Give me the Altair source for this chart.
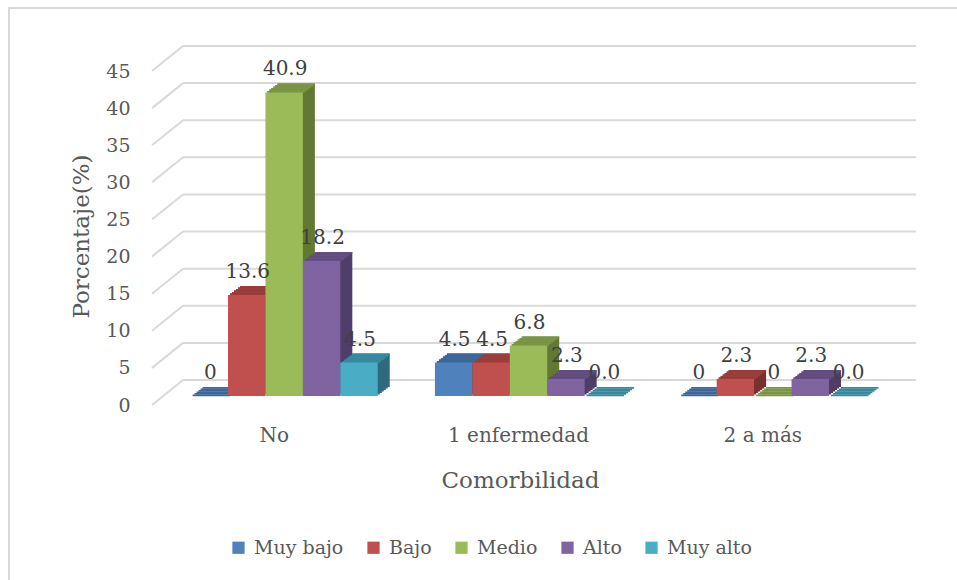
import altair as alt
import pandas as pd

categories = ["No", "1 enfermedad", "2 a más"]
series = ["Muy bajo", "Bajo", "Medio", "Alto", "Muy alto"]
values = {
    "No": [0, 13.6, 40.9, 18.2, 4.5],
    "1 enfermedad": [4.5, 4.5, 6.8, 2.3, 0.0],
    "2 a más": [0, 2.3, 0, 2.3, 0.0],
}
labels = {
    "No": ["0", "13.6", "40.9", "18.2", "4.5"],
    "1 enfermedad": ["4.5", "4.5", "6.8", "2.3", "0.0"],
    "2 a más": ["0", "2.3", "0", "2.3", "0.0"],
}
y_ticks = [0, 5, 10, 15, 20, 25, 30, 35, 40, 45]

front_colors = ["#4F81BD", "#C0504D", "#9BBB59", "#8064A2", "#4BACC6"]
top_colors = ["#3D6798", "#9A3D3B", "#7A9645", "#644E82", "#38899F"]
side_colors = ["#2F5078", "#7A302E", "#627934", "#503E69", "#2C6C7E"]

rows = []
for c in categories:
    for i, s in enumerate(series):
        rows.append({"cat": c, "ser": s, "val": values[c][i], "lab": labels[c][i],
                     "side": side_colors[i], "top": top_colors[i]})
df = pd.DataFrame(rows)
ticks_df = pd.DataFrame({"t": y_ticks})

FONT = "DejaVu Serif"
W, H = 733, 334
P_IN, P_OUT = 0.234, 0.117
step = W / (len(categories) - P_IN + 2 * P_OUT)
BW = step * (1 - P_IN)
xscale = alt.Scale(domain=categories, paddingInner=P_IN, paddingOuter=P_OUT)
yscale = alt.Scale(domain=[0, 45], nice=False)

x_axis = alt.Axis(title="Comorbilidad", domain=False, ticks=False, labelAngle=0,
                  labelAlign="center", labelOffset=-10, labelPadding=29,
                  labelFontSize=20, labelFont=FONT, labelColor="#595959",
                  titleFont=FONT, titleFontSize=23, titleFontWeight="normal",
                  titleColor="#595959", titlePadding=24, titleX=358, grid=False)
y_axis = alt.Axis(title="Porcentaje(%)", values=y_ticks, domain=False, ticks=False,
                  grid=False, labelPadding=32, labelOffset=9, labelFontSize=19,
                  labelOverlap=False, labelFont=FONT, labelColor="#595959",
                  titleFont=FONT, titleFontSize=23, titleFontWeight="normal",
                  titleColor="#595959", titlePadding=12, titleY=174)

X = alt.X("cat:N", sort=categories, scale=xscale, axis=x_axis)
Yv = alt.Y("val:Q", scale=yscale, axis=y_axis)
Yt = alt.Y("t:Q", scale=yscale, axis=y_axis)


def xo(shift):
    return alt.XOffset("ser:N", sort=series,
                       scale=alt.Scale(domain=series, paddingInner=0, paddingOuter=0,
                                       range=[shift, BW + shift]))


base = alt.Chart(df)

# gridlines (back wall + diagonal)
grid_back = alt.Chart(ticks_df).mark_rule(color="#d9d9d9", strokeWidth=2, yOffset=-16).encode(
    y=Yt, x=alt.value(21), x2=alt.value(754))
grid_diag = alt.Chart(ticks_df).mark_rule(color="#d9d9d9", strokeWidth=2, yOffset=9, y2Offset=-16).encode(
    y=Yt, y2="t:Q", x=alt.value(-10), x2=alt.value(21))

border = alt.Chart(ticks_df).mark_rect(fill=None, stroke="#d9d9d9", strokeWidth=2).encode(
    x=alt.value(-153), x2=alt.value(900), y=alt.value(-54), y2=alt.value(600))

N = 6
DX, DY = 12.0, 9.0
layers = [border, grid_back, grid_diag]
for k in range(N, 0, -1):
    ox = DX * k / N
    oy = DY * k / N
    layers.append(base.mark_bar(yOffset=-oy, y2Offset=-oy).encode(
        x=X, xOffset=xo(ox), y=Yv, y2=alt.datum(0),
        color=alt.Color("side:N", scale=None),
    ))
for k in range(N, 0, -1):
    ox = DX * k / N
    oy = DY * k / N
    layers.append(base.mark_bar(yOffset=-oy, y2Offset=-oy + DY / N + 0.3).encode(
        x=X, xOffset=xo(ox), y=Yv, y2="val:Q",
        color=alt.Color("top:N", scale=None),
    ))

front = base.mark_bar().encode(
    x=X, xOffset=xo(0), y=Yv,
    color=alt.Color("ser:N", sort=series, scale=alt.Scale(domain=series, range=front_colors),
                    legend=alt.Legend(title=None, orient="none", legendX=67, legendY=476,
                                      direction="horizontal", symbolType="square",
                                      symbolSize=150, symbolStrokeWidth=0, labelFont=FONT,
                                      labelFontSize=19, labelColor="#595959",
                                      columnPadding=20, labelOffset=6)),
)
layers.append(front)

sub = BW / len(series)
text = base.mark_text(font=FONT, fontSize=20, color="#404040", baseline="middle", dy=-23).encode(
    x=X,
    xOffset=alt.XOffset("ser:N", sort=series,
                        scale=alt.Scale(type="point", domain=series, padding=0,
                                        range=[sub / 2 + 1, BW - sub / 2 + 1])),
    y=Yv,
    text="lab:N",
)
layers.append(text)

chart = alt.layer(*layers).resolve_scale(xOffset="independent").properties(
    width=W, height=H,
    background="white",
    autosize=alt.AutoSizeParams(type="none"),
    padding={"left": 162, "top": 62, "right": 62, "bottom": 184},
).configure_view(stroke=None)

chart.save("out.html", embed_options={"renderer": "svg", "actions": False})
